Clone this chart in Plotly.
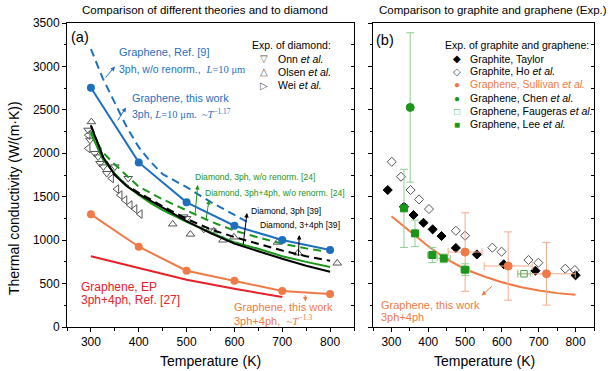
import plotly.graph_objects as go

# ---------------- data (left panel) ----------------
T_calc = [300, 400, 500, 600, 700, 800]
k_gr_3ph = [2754, 1895, 1435, 1166, 1001, 886]       # Graphene, this work 3ph
k_gr_34ph = [1297, 924, 648, 533, 414, 380]          # Graphene, this work 3ph+4ph

T_ref9 = [300, 325, 350, 375, 400, 425, 450, 475, 500, 550, 600, 630]
k_ref9 = [3200, 2860, 2580, 2300, 2070, 1900, 1760, 1680, 1610, 1440, 1290, 1200]

T_ep = [300, 400, 500, 600, 700]
k_ep = [815, 680, 545, 440, 345]

T_dia = [300, 325, 350, 375, 400, 425, 450, 500, 550, 600, 650, 700, 750, 800]
k_dia_3ph_39 = [2320, 1960, 1750, 1620, 1530, 1450, 1375, 1220, 1080, 960, 870, 785, 705, 636]
k_dia_34ph_39 = [2320, 1965, 1760, 1630, 1545, 1465, 1390, 1245, 1125, 1035, 960, 880, 815, 763]
k_dia_34ph_24 = [2230, 1930, 1765, 1625, 1520, 1425, 1345, 1210, 1090, 975, 900, 815, 750, 690]
T_dia24 = [300, 325, 350, 375, 400, 450, 500, 550, 600, 650, 700, 750, 790]
k_dia_3ph_24 = [2250, 2010, 1870, 1740, 1615, 1470, 1340, 1215, 1110, 1030, 960, 905, 870]

T_onn = [294, 298, 308, 315, 319, 326, 333, 350, 378, 494, 500, 536, 553]
k_onn = [2267, 2152, 1999, 1960, 1884, 1845, 1769, 1845, 1711, 1269, 1250, 1127, 1108]
T_olsen = [301, 471, 508, 557, 576, 599, 690, 733, 815]
k_olsen = [2362, 1185, 1068, 1105, 1000, 1035, 975, 852, 735]
T_wei = [294, 294, 343, 354, 361, 371, 382, 392, 403]
k_wei = [2209, 2056, 1711, 1588, 1519, 1461, 1404, 1358, 1300]

# ---------------- data (right panel) ----------------
T_taylor = [290, 334, 360, 387, 412, 436, 475, 532, 605, 691, 800]
k_taylor = [1577, 1384, 1289, 1200, 1124, 1047, 910, 835, 722, 648, 595]
T_ho = [301, 326, 352, 375, 402, 475, 500, 574, 599, 672, 699, 772, 798]
k_ho = [1902, 1730, 1577, 1469, 1358, 1108, 1051, 913, 867, 771, 740, 671, 656]
T_sull = [500, 617, 721]
k_sull = [863, 702, 613]
ek_sull = [452, 393, 361]
eT_sull = [46, 65, 78]
T_chen = [351]
k_chen = [2528]
ek_chen = [860]
T_faug = [660]
k_faug = [613]
eT_faug = [17]
T_lee = [334, 364, 411, 442, 500]
k_lee = [1366, 1078, 829, 790, 660]
ek_lee = [450, 153, 87, 50, 68]
eT_lee = [0, 0, 13, 18, 12]
T_fit = [300, 350, 400, 450, 500, 550, 600, 650, 700, 750, 800]
k_fit = [1275, 1100, 930, 780, 665, 585, 515, 460, 420, 390, 370]

x_ticks = [300, 400, 500, 600, 700, 800]
y_ticks = [0, 500, 1000, 1500, 2000, 2500, 3000, 3500]

# ---------------- styles ----------------
BLUE = '#1f6fbf'
ORANGE = '#f07a45'
RED = '#e8202a'
GREEN = '#1a961a'
LGREEN = '#8fd08f'
LORANGE = '#f5ab8c'
GRAY = '#555555'
FONT = 'Liberation Sans, Arial, sans-serif'

fig = go.Figure()

def line(x, y, color, dash=None, markers=False, ax='x', ay='y', width=2):
    fig.add_trace(go.Scatter(
        x=x, y=y, xaxis=ax, yaxis=ay,
        mode='lines+markers' if markers else 'lines',
        line=dict(color=color, width=width, dash=dash),
        marker=dict(size=8, color=color)))

def pts(x, y, symbol, color, size=8, ax='x', ay='y', lw=1, **kw):
    fig.add_trace(go.Scatter(
        x=x, y=y, xaxis=ax, yaxis=ay, mode='markers',
        marker=dict(symbol=symbol, size=size, color=color,
                    line=dict(color=color, width=lw)), **kw))

# left panel: experimental diamond
pts(T_onn, k_onn, 'triangle-down-open', GRAY, 7.5)
pts(T_olsen, k_olsen, 'triangle-up-open', GRAY, 7.5)
pts(T_wei, k_wei, 'triangle-left-open', GRAY, 7.5)

# left panel: theory curves
DASH = '8px,5px'
line(T_dia, k_dia_34ph_39, 'black', DASH)
line(T_dia24, k_dia_3ph_24, GREEN, DASH)
line(T_dia, k_dia_34ph_24, GREEN)
line(T_dia, k_dia_3ph_39, 'black')
line(T_ref9, k_ref9, BLUE, DASH)
line(T_calc, k_gr_3ph, BLUE, markers=True)
line(T_ep, k_ep, RED)
line(T_calc, k_gr_34ph, ORANGE, markers=True)

# right panel
line(T_fit, k_fit, ORANGE, ax='x2', ay='y2')
pts(T_ho, k_ho, 'diamond-open', GRAY, 7, 'x2', 'y2')
pts(T_taylor, k_taylor, 'diamond', 'black', 7, 'x2', 'y2')
pts(T_sull, k_sull, 'circle', ORANGE, 8, 'x2', 'y2',
    error_y=dict(type='data', array=ek_sull, color=LORANGE, thickness=1, width=4),
    error_x=dict(type='data', array=eT_sull, color=LORANGE, thickness=1, width=4))
pts(T_chen, k_chen, 'circle', GREEN, 8, 'x2', 'y2',
    error_y=dict(type='data', array=ek_chen, color=LGREEN, thickness=1, width=4))
pts(T_faug, k_faug, 'square-open', '#4aaa4a', 6.5, 'x2', 'y2',
    error_x=dict(type='data', array=eT_faug, color=LGREEN, thickness=1, width=3))
pts(T_lee, k_lee, 'square', GREEN, 7, 'x2', 'y2',
    error_y=dict(type='data', array=ek_lee, color=LGREEN, thickness=1, width=4),
    error_x=dict(type='data', array=eT_lee, color=LGREEN, thickness=1, width=3))

# empty traces so the mirrored (inside) tick axes get drawn
fig.add_trace(go.Scatter(x=[], y=[], xaxis='x', yaxis='y3', showlegend=False))
fig.add_trace(go.Scatter(x=[], y=[], xaxis='x2', yaxis='y4', showlegend=False))

# ---------------- axes ----------------
L, R, T, B = 67, 18, 23, 44
W, H = 612, 371
PW, PH = W - L - R, H - T - B
d1 = [0, (354 - L) / PW]
d2 = [(373 - L) / PW, 1]

tickfont = dict(family=FONT, size=12, color='black')
xcommon = dict(range=[250, 850], tickvals=x_ticks, ticks='outside', ticklen=4,
               tickwidth=1, tickcolor='black', showline=True, linecolor='black',
               linewidth=1, mirror=True, showgrid=False, zeroline=False,
               tickfont=tickfont,
               minor=dict(dtick=50, tick0=250, ticks='outside', ticklen=2.5,
                          tickcolor='black', showgrid=False))
ycommon = dict(range=[0, 3500], tickvals=y_ticks, ticks='outside', ticklen=4,
               tickwidth=1, tickcolor='black', showline=True, linecolor='black',
               linewidth=1, mirror=True, showgrid=False, zeroline=False,
               tickfont=tickfont,
               minor=dict(dtick=250, tick0=0, ticks='outside', ticklen=2.5,
                          tickcolor='black', showgrid=False))
ymirror = dict(range=[0, 3500], dtick=250, tick0=0, ticks='inside', ticklen=3,
               tickcolor='black', showticklabels=False, showline=False,
               showgrid=False, zeroline=False, side='right')

fig.update_layout(
    width=W, height=H, margin=dict(l=L, r=R, t=T, b=B, autoexpand=False),
    paper_bgcolor='white', plot_bgcolor='white', showlegend=False,
    font=dict(family=FONT, color='black'),
    xaxis=dict(domain=d1, anchor='y', **xcommon),
    yaxis=dict(domain=[0, 1], anchor='x', **ycommon),
    xaxis2=dict(domain=d2, anchor='y2', **xcommon),
    yaxis2=dict(domain=[0, 1], anchor='x2', showticklabels=False, **ycommon),
    yaxis3=dict(overlaying='y', anchor='x', **ymirror),
    yaxis4=dict(overlaying='y2', anchor='x2', **ymirror),
)

# ---------------- text helpers (pixel -> paper) ----------------
def P(xp, yp):
    return (xp - L) / PW, (H - B - yp) / PH

def txt(s, xp, yp, color='black', size=10.5, xanchor='left', angle=0):
    if xanchor == 'left':
        xp -= 2.5   # compensate annotation box padding
    x, y = P(xp, yp)
    fig.add_annotation(text=s, x=x, y=y, xref='paper', yref='paper',
                       showarrow=False, xanchor=xanchor, yanchor='middle',
                       textangle=angle,
                       font=dict(family=FONT, size=size, color=color))

def arrow(tail, head, color):
    hx, hy = P(*head)
    fig.add_annotation(text='', x=hx, y=hy, xref='paper', yref='paper',
                       ax=tail[0] - head[0], ay=tail[1] - head[1],
                       showarrow=True, arrowhead=2, arrowsize=0.9,
                       arrowwidth=1, arrowcolor=color, standoff=0, startstandoff=0)

SERIF = 'font-family:Liberation Serif'

# titles
txt('Comparison of different theories and to diamond', 205, 10, size=11.5, xanchor='center')
txt('Comparison to graphite and graphene (Exp.)', 493, 10, size=11.5, xanchor='center')
txt('Temperature (K)', 210, 361, size=14, xanchor='center')
txt('Temperature (K)', 484, 361, size=14, xanchor='center')
txt('Thermal conductivity (W/(m·K))', 14, 198, size=14, xanchor='center', angle=-90)
txt('(a)', 71, 37, size=14.5)
txt('(b)', 376, 40, size=14.5)

# left panel labels
txt('Graphene, Ref. [9]', 119, 52, BLUE, 11)
txt('3ph, w/o renorm.,  <span style="%s"><i>L</i>=10 μm</span>' % SERIF, 119, 68.5, BLUE, 10.5)
arrow((104.3, 79), (115, 66.5), BLUE)
txt('Graphene, this work', 132.5, 98.5, BLUE, 10.8)
txt('3ph, <span style="%s"><i>L</i>=10 μm.  ~<i>T</i><sup>−1.17</sup></span>' % SERIF,
    132.5, 113, BLUE, 10.5)
arrow((116.7, 122), (126, 107.5), BLUE)
txt('Diamond, 3ph, w/o renorm. [24]', 195, 177, GREEN, 8.6)
arrow((195, 215), (197.7, 185), GREEN)
txt('Diamond, 3ph+4ph, w/o renorm. [24]', 205, 192.5, GREEN, 8.6)
arrow((205.7, 222), (209, 200), GREEN)
txt('Diamond, 3ph [39]', 251.5, 210.5, 'black', 8.6)
arrow((243, 246), (247, 213), 'black')
txt('Diamond, 3+4ph [39]', 260, 224.5, 'black', 8.6)
arrow((298.3, 257.5), (299.3, 235), 'black')
txt('Graphene, EP', 81.5, 286.5, RED, 12)
txt('3ph+4ph, Ref. [27]', 81.5, 299.5, RED, 12)
txt('Graphene, this work', 234, 306.5, ORANGE, 11)
txt('3ph+4ph,  <span style="%s">~<i>T</i><sup>−1.3</sup></span>' % SERIF, 234, 319.5, ORANGE, 11)
arrow((305, 293.5), (305.5, 301.5), ORANGE)

# left legend
txt('Exp. of diamond:', 252.5, 45, size=10.5)
for g, name, yp in [('▽', 'Onn <i>et al.</i>', 58.7),
                    ('△', 'Olsen <i>et al.</i>', 71.5),
                    ('▷', 'Wei <i>et al.</i>', 85)]:
    txt(g, 264, yp, GRAY, 10, xanchor='center')
    txt(name, 278.3, yp, size=10.5)

# right panel labels
txt('Graphene, this work', 381.5, 304.5, ORANGE, 11)
txt('3ph+4ph', 381.5, 317, ORANGE, 11)
arrow((493.3, 285), (481.7, 295.5), ORANGE)

# right legend
txt('Exp. of graphite and graphene:', 445, 45, size=10.5)
for g, gc, name, nc, yp in [
        ('◆', 'black', 'Graphite, Taylor', 'black', 58.5),
        ('◇', GRAY, 'Graphite, Ho <i>et al.</i>', 'black', 71.2),
        ('●', ORANGE, 'Graphene, Sullivan <i>et al.</i>', ORANGE, 84.3),
        ('●', GREEN, 'Graphene, Chen <i>et al.</i>', 'black', 98.2),
        ('□', '#4aaa4a', 'Graphene, Faugeras <i>et al.</i>', 'black', 111),
        ('■', GREEN, 'Graphene, Lee <i>et al.</i>', 'black', 124.3)]:
    txt(g, 456.7, yp, gc, 10, xanchor='center')
    txt(name, 470.7, yp, nc, 10.5)

fig.write_html('out.html', config={'displayModeBar': False},
               post_script="document.body.style.margin='0px';")
